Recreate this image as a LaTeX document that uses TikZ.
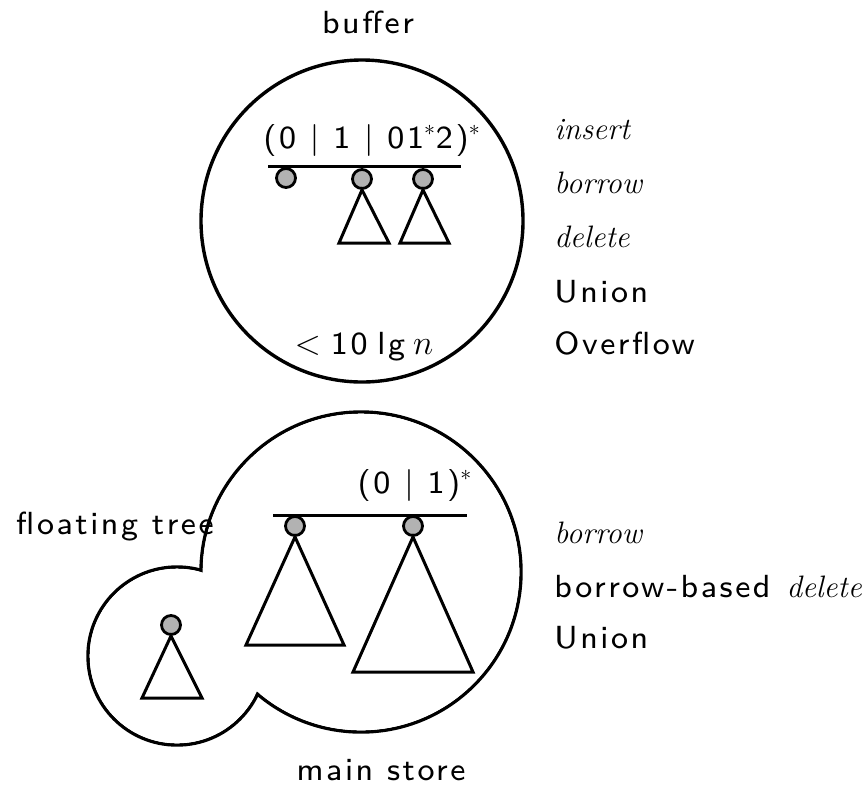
\documentclass[tikz,border=0pt]{standalone}
\usepackage{fontspec}
\setsansfont{lmsans8-regular.otf}[LetterSpace=8]
\begin{document}
\begin{tikzpicture}[x=0.5pt,y=-0.5pt,
  sf/.style={font=\fontsize{16}{19}\selectfont\sffamily, inner sep=0pt},
  it/.style={font=\fontsize{15.5}{18}\selectfont\rmfamily\itshape, inner sep=0pt},
  outline/.style={line width=1.7pt},
  knot/.style={circle, draw, fill=gray!60, line width=1.4pt, minimum size=9.5pt, inner sep=0pt},
  tri/.style={line width=1.5pt},
  bar/.style={line width=1.5pt}]
\useasboundingbox (0,0) rectangle (866,788);
% buffer
\node[sf] (buflbl) at (368,22) {buffer};
\draw[outline] (362,221) circle[radius=80.5pt];
\node[sf] (f1) at (372,140) {(0 | 1 | 01$^*$2)$^*$};
\coordinate (b1l) at (268,166);
\coordinate (b1r) at (461,166);
\draw[bar] (b1l) -- (b1r);
\node[knot] (k1) at (286,178) {};
\node[knot] (k2) at (362,179) {};
\node[knot] (k3) at (423,179) {};
\coordinate (t2a) at (339,243); \coordinate (t2b) at (389,243);
\coordinate (t3a) at (400,243); \coordinate (t3b) at (449,243);
\draw[tri] (k2.south) -- (t2b) -- (t2a) -- cycle;
\draw[tri] (k3.south) -- (t3b) -- (t3a) -- cycle;
\node[sf] (size) at (364,347) {$<$\hspace{5pt}10\hspace{5pt}lg\hspace{4pt}$n$};
% right labels top
\node[it, anchor=west] (o1) at (554,130) {insert};
\node[it, anchor=west] (o2) at (554,183) {borrow};
\node[it, anchor=west] (o3) at (554,237) {delete};
\node[sf, anchor=west] (o4) at (554,292) {Union};
\node[sf, anchor=west] (o5) at (554,343) {Overflow};
% main store outline (union of two circles)
\draw[outline] (361,572) circle[radius=80pt];
\draw[outline] (177,656) circle[radius=44.5pt];
\fill[white] (361,572) circle[radius=79.15pt];
\fill[white] (177,656) circle[radius=43.65pt];
\node[sf] (f2) at (415,485) {(0 | 1)$^*$};
\coordinate (m1l) at (273,515);
\coordinate (m1r) at (467,515);
\draw[bar] (m1l) -- (m1r);
\node[knot] (m1) at (295,526) {};
\node[knot] (m2) at (413,526) {};
\coordinate (u1a) at (246,645); \coordinate (u1b) at (344,645);
\coordinate (u2a) at (353,672); \coordinate (u2b) at (473,672);
\draw[tri] (m1.south) -- (u1b) -- (u1a) -- cycle;
\draw[tri] (m2.south) -- (u2b) -- (u2a) -- cycle;
\node[knot] (fl) at (171,625) {};
\coordinate (v1a) at (142,698); \coordinate (v1b) at (202,698);
\draw[tri] (fl.south) -- (v1b) -- (v1a) -- cycle;
\node[sf] (ftl) at (115,527) {floating tree};
\node[sf] (msl) at (381,770) {main store};
% right labels bottom
\node[it, anchor=west] (p1) at (554,533) {borrow};
\node[sf, anchor=west] (p2) at (554,587) {borrow-based\hspace{8pt}{\fontsize{15.5}{18}\selectfont\rmfamily\itshape delete}};
\node[sf, anchor=west] (p3) at (554,638) {Union};
\end{tikzpicture}
\end{document}
